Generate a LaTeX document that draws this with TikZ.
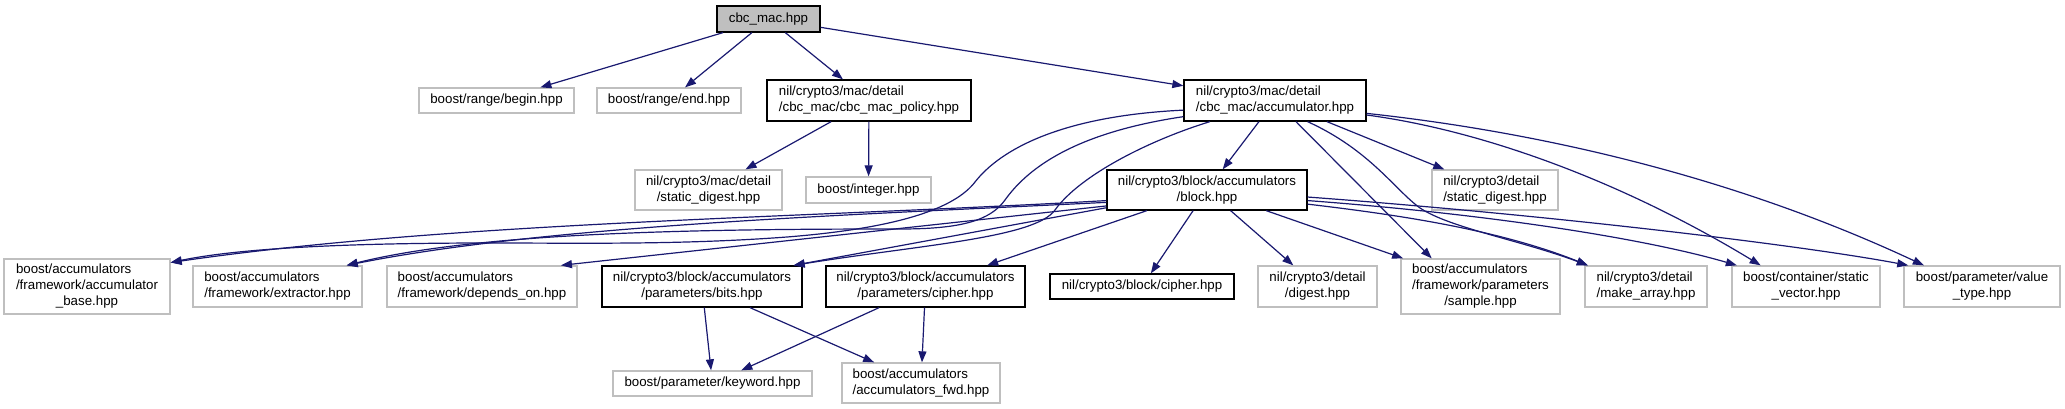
\documentclass[tikz,border=0pt]{standalone}
\usepackage{fontspec}
\setmainfont{Liberation Sans}
\usetikzlibrary{arrows.meta}
\definecolor{edgeblue}{HTML}{191970}
\definecolor{extgray}{HTML}{BFBFBF}
\newcommand{\twoline}[2]{\begin{tabular}{@{}l@{}}#1\\\multicolumn{1}{@{}c@{}}{#2}\end{tabular}}
\newcommand{\threeline}[3]{\begin{tabular}{@{}l@{}}#1\\#2\\\multicolumn{1}{@{}c@{}}{#3}\end{tabular}}
\begin{document}
\begin{tikzpicture}[x=1pt,y=-1pt,
  every node/.style={font=\fontsize{13.3}{16}\selectfont,inner sep=0pt},
  ext/.style={draw=extgray,line width=1.3pt,fill=white},
  doc/.style={draw=black,line width=1.3pt,fill=white},
  root/.style={draw=black,line width=1.3pt,fill=extgray},
  dep/.style={draw=edgeblue,line width=1.2pt,-{Triangle[length=11pt,width=8pt]}}]
  \useasboundingbox (0,0) rectangle (2065,409);
  % top rows
  \node[root,minimum width=103,minimum height=26] (cbc) at (768.5,19) {cbc\_mac.hpp};
  \node[ext,minimum width=155,minimum height=25] (begin) at (496.5,100.5) {boost/range/begin.hpp};
  \node[ext,minimum width=144,minimum height=25] (end) at (669,100.5) {boost/range/end.hpp};
  \node[doc,minimum width=204,minimum height=41] (policy) at (869,100.5) {\twoline{nil/crypto3/mac/detail}{/cbc\_mac/cbc\_mac\_policy.hpp}};
  \node[doc,minimum width=182,minimum height=41] (accum) at (1275,100.5) {\twoline{nil/crypto3/mac/detail}{/cbc\_mac/accumulator.hpp}};
  \node[ext,minimum width=147,minimum height=40] (macdigest) at (708.5,190) {\twoline{nil/crypto3/mac/detail}{/static\_digest.hpp}};
  \node[ext,minimum width=125,minimum height=26] (integer) at (868.5,190) {boost/integer.hpp};
  \node[doc,minimum width=200,minimum height=40] (block) at (1207,190) {\twoline{nil/crypto3/block/accumulators}{/block.hpp}};
  \node[ext,minimum width=126,minimum height=40] (detdigest) at (1495,190) {\twoline{nil/crypto3/detail}{/static\_digest.hpp}};
  % fourth row
  \node[ext,minimum width=166,minimum height=55] (accbase) at (87,286.5) {\threeline{boost/accumulators}{/framework/accumulator}{\_base.hpp}};
  \node[ext,minimum width=169,minimum height=41] (extractor) at (277.5,286.5) {\twoline{boost/accumulators}{/framework/extractor.hpp}};
  \node[ext,minimum width=190,minimum height=41] (depends) at (482,286.5) {\twoline{boost/accumulators}{/framework/depends\_on.hpp}};
  \node[doc,minimum width=200,minimum height=41] (bits) at (702,286.5) {\twoline{nil/crypto3/block/accumulators}{/parameters/bits.hpp}};
  \node[doc,minimum width=199,minimum height=41] (cparam) at (925.5,286.5) {\twoline{nil/crypto3/block/accumulators}{/parameters/cipher.hpp}};
  \node[doc,minimum width=184,minimum height=25] (cipher) at (1142,286.5) {nil/crypto3/block/cipher.hpp};
  \node[ext,minimum width=119,minimum height=41] (digest) at (1317.5,286.5) {\twoline{nil/crypto3/detail}{/digest.hpp}};
  \node[ext,minimum width=159,minimum height=55] (sample) at (1480.5,286.5) {\threeline{boost/accumulators}{/framework/parameters}{/sample.hpp}};
  \node[ext,minimum width=122,minimum height=41] (makearr) at (1646,286.5) {\twoline{nil/crypto3/detail}{/make\_array.hpp}};
  \node[ext,minimum width=148,minimum height=41] (svector) at (1806,286.5) {\twoline{boost/container/static}{\_vector.hpp}};
  \node[ext,minimum width=156,minimum height=41] (vtype) at (1982,286.5) {\twoline{boost/parameter/value}{\_type.hpp}};
  % bottom row
  \node[ext,minimum width=199,minimum height=25] (keyword) at (712.5,383.5) {boost/parameter/keyword.hpp};
  \node[ext,minimum width=158,minimum height=40] (accfwd) at (921,383) {\twoline{boost/accumulators}{/accumulators\_fwd.hpp}};
  % cbc_mac.hpp
  \draw[dep] (cbc) -- (begin);
  \draw[dep] (cbc) -- (end);
  \draw[dep] (cbc) -- (policy);
  \draw[dep] (cbc) -- (accum);
  % policy
  \draw[dep] (policy) -- (macdigest);
  \draw[dep] (policy) -- (integer);
  % accumulator
  \draw[dep] (accum) -- (block);
  \draw[dep] (accum) -- (detdigest);
  \draw[dep] (accum) -- (sample.150);
  \draw[dep] (accum.186) .. controls (1060,116) and (1000,150) .. (975,182) .. controls (955,208) and (900,228) .. (787,237) .. controls (680,245) and (580,243) .. (490,243) .. controls (380,243) and (250,246) .. (accbase.16);
  \draw[dep] (accum.190) .. controls (1080,132) and (1030,165) .. (1005,200) .. controls (990,221) and (960,229) .. (900,229) .. controls (700,229) and (480,232) .. (extractor.17);
  \draw[dep] (accum.198) .. controls (1150,140) and (1080,175) .. (1055,210) .. controls (1035,238) and (920,245) .. (bits.13);
  \draw[dep] (accum.327) .. controls (1370,150) and (1395,190) .. (1420,208) .. controls (1450,228) and (1520,240) .. (makearr.160);
  \draw[dep] (accum.351) .. controls (1480,130) and (1620,180) .. (svector.155);
  \draw[dep] (accum.352) .. controls (1520,130) and (1720,170) .. (vtype.160);
  % block
  \draw[dep] (block.186) .. controls (800,218) and (450,222) .. (accbase.16);
  \draw[dep] (block.187) .. controls (850,215) and (550,225) .. (extractor.17);
  \draw[dep] (block.189) -- (depends.15);
  \draw[dep] (block.190) -- (bits.13);
  \draw[dep] (block) -- (cparam);
  \draw[dep] (block) -- (cipher);
  \draw[dep] (block) -- (digest);
  \draw[dep] (block) -- (sample.160);
  \draw[dep] (block.352) .. controls (1400,215) and (1500,230) .. (makearr.160);
  \draw[dep] (block.354) .. controls (1500,215) and (1650,240) .. (svector.163);
  \draw[dep] (block.356) .. controls (1550,215) and (1800,245) .. (vtype.164);
  % parameters
  \draw[dep] (bits) -- (keyword);
  \draw[dep] (bits) -- (accfwd);
  \draw[dep] (cparam) -- (keyword);
  \draw[dep] (cparam) -- (accfwd);
\end{tikzpicture}
\end{document}
